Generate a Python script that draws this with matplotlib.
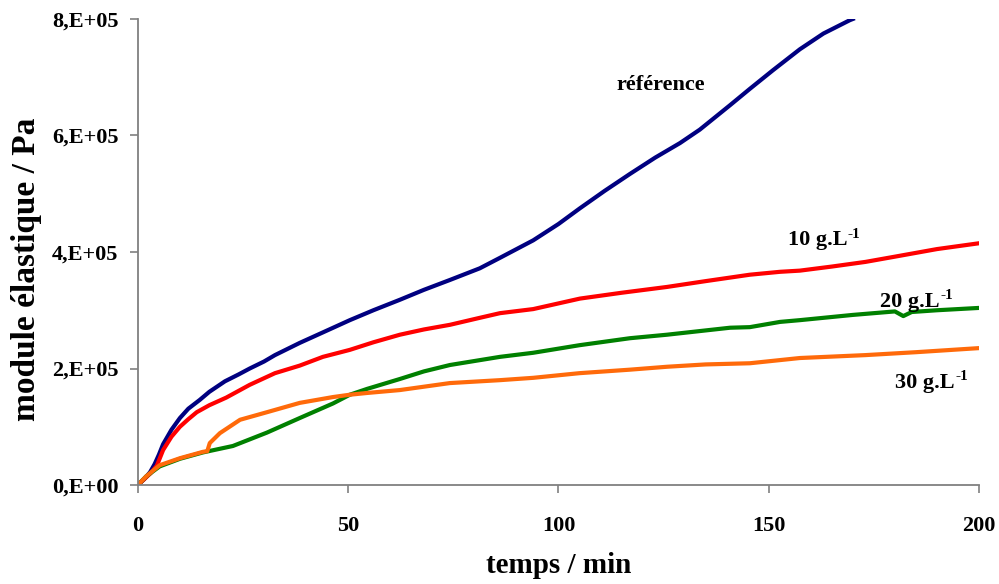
import matplotlib as mplt
mplt.use('Agg')
import matplotlib.pyplot as plt

mplt.rcParams['font.family'] = ['Liberation Serif', 'DejaVu Serif']
mplt.rcParams['font.weight'] = 'bold'
mplt.rcParams['axes.labelweight'] = 'bold'

# temps (min) / module (x 1e5 Pa)
t_ref = [0, 1.5, 2.9, 4, 5, 6, 8, 10, 12, 14.7, 17, 20.7, 24, 26.6, 30, 32.6, 38.5, 44,
         50.4, 56, 62.3, 68, 74.2, 81.3, 86.1, 94, 100, 105.1, 111, 117, 123, 128.9,
         133.6, 140.8, 145.5, 151, 157.4, 163, 169.3, 170]
g_ref = [0, 0.1, 0.22, 0.36, 0.52, 0.7, 0.95, 1.15, 1.31, 1.46, 1.6, 1.78, 1.9, 2.0,
         2.12, 2.23, 2.44, 2.62, 2.83, 3.0, 3.18, 3.35, 3.52, 3.72, 3.9, 4.2, 4.48,
         4.75, 5.05, 5.34, 5.62, 5.87, 6.1, 6.52, 6.8, 7.12, 7.48, 7.75, 7.98, 8.0]

t_10 = [0, 1.5, 3, 4.5, 6, 8, 10, 12, 14, 17, 21, 26.6, 29, 32.6, 38.5, 44, 50.4, 56,
        62.3, 68, 74.2, 81.3, 86.1, 94, 105.1, 115, 125.8, 135, 145.5, 152.7, 157.4,
        165, 173, 180, 190, 200]
g_10 = [0, 0.1, 0.2, 0.33, 0.6, 0.83, 1.0, 1.13, 1.25, 1.37, 1.5, 1.72, 1.8, 1.92,
        2.05, 2.2, 2.32, 2.45, 2.58, 2.67, 2.75, 2.87, 2.95, 3.02, 3.2, 3.3, 3.4, 3.5,
        3.61, 3.66, 3.68, 3.75, 3.83, 3.92, 4.05, 4.15]

t_20 = [0, 2, 5.2, 10, 15.5, 22.6, 30.7, 38.5, 46.4, 50.4, 54.5, 62.3, 68, 74.2, 86.1,
        94, 105, 117, 125.8, 140.8, 145.5, 152.7, 157.4, 170, 180, 182, 184, 190, 200]
g_20 = [0, 0.15, 0.32, 0.45, 0.56, 0.67, 0.9, 1.15, 1.4, 1.55, 1.65, 1.82, 1.95, 2.06,
        2.2, 2.27, 2.4, 2.52, 2.58, 2.7, 2.71, 2.8, 2.83, 2.92, 2.98, 2.9, 2.97, 3.0, 3.04]

t_30 = [0, 2, 5.2, 10, 15.5, 16.5, 17.1, 19.5, 24.3, 30.7, 38.5, 46.4, 50.4, 54.5, 62.3,
        74.2, 86.1, 94, 105, 117, 125.8, 135, 145.5, 157.4, 173, 185, 200]
g_30 = [0, 0.15, 0.34, 0.46, 0.57, 0.58, 0.72, 0.89, 1.12, 1.25, 1.41, 1.51, 1.55, 1.58,
        1.63, 1.75, 1.8, 1.84, 1.92, 1.98, 2.03, 2.07, 2.09, 2.18, 2.23, 2.28, 2.35]

yticks = [0, 2, 4, 6, 8]
ytick_labels = ["0,E+00", "2,E+05", "4,E+05", "6,E+05", "8,E+05"]
xticks = [0, 50, 100, 150, 200]

fig = plt.figure(figsize=(9.99, 5.84), dpi=100)
ax = fig.add_axes([0.138, 0.1695, 0.842, 0.798])

lw = 3.0
ax.plot(t_ref, g_ref, color="#000080", lw=lw)
ax.plot(t_10, g_10, color="#ff0000", lw=lw)
ax.plot(t_20, g_20, color="#008000", lw=lw)
ax.plot(t_30, g_30, color="#ff6a0a", lw=lw)

ax.text(124.4, 6.87, "référence", fontsize=16, fontweight="bold", ha="center", va="center")

# concentration labels with a small "-1" exponent
for x, y, s in [(154.5, 4.2, "10 g.L"), (176.5, 3.15, "20 g.L"), (180, 1.75, "30 g.L")]:
    txt = ax.text(x, y, s, fontsize=16, fontweight="bold", ha="left", va="center")
    ax.annotate("-1", xy=(1, 1), xycoords=txt, xytext=(0.5, 2), textcoords="offset points",
                fontsize=11, fontweight="bold", ha="left", va="top")

ax.set_xlim(0, 200)
ax.set_ylim(0, 8)
ax.set_xticks(xticks)
ax.set_yticks(yticks)
ax.set_yticklabels(ytick_labels)

for s in ["top", "right"]:
    ax.spines[s].set_visible(False)
for s in ["left", "bottom"]:
    ax.spines[s].set_color("#808080")
    ax.spines[s].set_linewidth(1.3)

ax.tick_params(axis="both", direction="out", length=6, width=1.2, color="#808080",
               labelsize=16)
ax.tick_params(axis="x", pad=16)
ax.tick_params(axis="y", pad=8)

ax.set_xlabel("temps / min", fontsize=21, fontweight="bold", labelpad=12)
ax.set_ylabel("module élastique / Pa", fontsize=24, fontweight="bold")
ax.yaxis.set_label_coords(-0.114, 0.463)

fig.savefig("out.png", dpi=100)
